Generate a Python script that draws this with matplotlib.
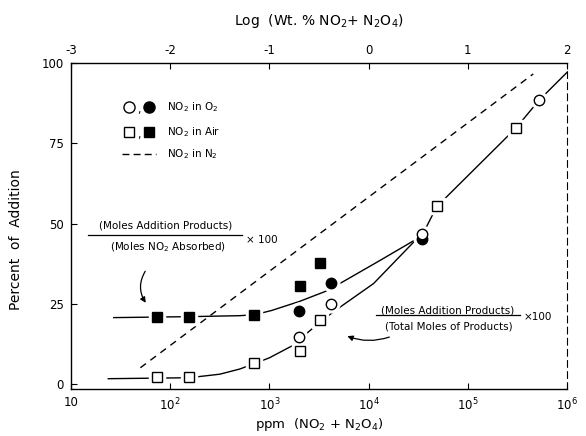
import numpy as np
import matplotlib
matplotlib.use("Agg")
import matplotlib.pyplot as plt

plt.rcParams['font.family'] = ['DejaVu Sans']
plt.rcParams['mathtext.default'] = 'regular'
plt.rcParams['axes.unicode_minus'] = False

# NO2 in air (squares), filled = addition / absorbed, open = addition / total products
air_filled_ppm = [74, 155, 700, 2030, 3240]
air_filled_pct = [21.1, 21.1, 21.6, 30.7, 37.8]
air_open_ppm = [74, 155, 700, 2030, 3240, 48500, 306000]
air_open_pct = [2.2, 2.2, 6.8, 10.3, 20.0, 55.5, 79.8]

# NO2 in O2 (circles)
o2_filled_ppm = [2000, 4150, 34300]
o2_filled_pct = [23.0, 31.6, 45.4]
o2_open_ppm = [2000, 4150, 34300, 522000]
o2_open_pct = [14.7, 25.0, 46.8, 88.4]

# NO2 in N2 (dashed line)
n2_ppm = [50, 457000]
n2_pct = [5.2, 96.6]

# hand-drawn curves, read as log10(ppm) knots
upper_log = [1.43, 2.19, 2.70, 2.85, 3.02, 3.30, 3.56, 3.71, 4.11, 4.47, 4.535]
upper_pct = [20.8, 21.1, 21.4, 21.7, 23.0, 25.8, 28.9, 31.4, 38.5, 45.0, 46.1]
lower_log = [1.376, 2.19, 2.50, 2.70, 2.85, 3.00, 3.24, 3.41, 3.64, 4.05, 4.47,
             4.535, 4.686, 5.486, 5.718, 5.997]
lower_pct = [1.8, 2.1, 3.2, 4.8, 6.5, 8.3, 12.2, 16.8, 22.5, 31.4, 44.8,
             46.1, 55.3, 79.8, 88.4, 97.0]

x_ticks = [10, 1e2, 1e3, 1e4, 1e5, 1e6]
x_labels = ['10', '$10^2$', '$10^3$', '$10^4$', '$10^5$', '$10^6$']
top_labels = ['-3', '-2', '-1', '0', '1', '2']   # log wt% = log ppm - 4
y_ticks = [0, 25, 50, 75, 100]

fig = plt.figure(figsize=(5.86, 4.36), dpi=100)
ax = fig.add_axes([0.1212, 0.1071, 0.8464, 0.7484])
ax.set_xscale('log')
ax.set_xlim(10, 1e6)
ax.set_ylim(-1.5, 100)

k = 'black'
ax.plot(10 ** np.array(upper_log), upper_pct, color=k, lw=1.0, zorder=2)
ax.plot(10 ** np.array(lower_log), lower_pct, color=k, lw=1.0, zorder=2)
ax.plot(n2_ppm, n2_pct, color=k, lw=1.0, ls=(0, (5, 4)), zorder=2)

# white halos so the curves break around the markers
for xs, ys, m, s in [(air_filled_ppm, air_filled_pct, 's', 7),
                     (air_open_ppm, air_open_pct, 's', 7),
                     (o2_filled_ppm, o2_filled_pct, 'o', 8),
                     (o2_open_ppm, o2_open_pct, 'o', 8)]:
    ax.plot(xs, ys, ls='none', marker=m, ms=s + 4, mfc='white', mec='white', zorder=3)

ax.plot(air_open_ppm, air_open_pct, ls='none', marker='s', ms=6.5, mfc='white', mec=k, mew=1.0, zorder=4)
ax.plot(air_filled_ppm, air_filled_pct, ls='none', marker='s', ms=6.5, mfc=k, mec=k, zorder=4)
ax.plot(o2_filled_ppm, o2_filled_pct, ls='none', marker='o', ms=7.5, mfc=k, mec=k, zorder=5)
ax.plot(o2_open_ppm, o2_open_pct, ls='none', marker='o', ms=7.5, mfc='white', mec=k, mew=1.0, zorder=6)

# axes styling
ax.set_xticks(x_ticks)
ax.set_xticklabels(x_labels)
ax.xaxis.set_minor_locator(plt.NullLocator())
ax.set_yticks(y_ticks)
ax.set_yticklabels([str(v) for v in y_ticks])
ax.tick_params(direction='in', length=4, width=0.8, labelsize=8.5, pad=5)
ax.spines['right'].set_linestyle((0, (6, 4)))
ax.spines['right'].set_linewidth(0.8)
for s in ['left', 'bottom', 'top']:
    ax.spines[s].set_linewidth(1.0)

ax.set_xlabel('ppm  (NO$_2$ + N$_2$O$_4$)', fontsize=9.5, labelpad=2)
ax.set_ylabel('Percent  of  Addition', fontsize=10)
ax.yaxis.set_label_coords(-0.097, 0.46)

top = ax.twiny()
top.set_xscale('log')
top.set_xlim(ax.get_xlim())
top.set_xticks(x_ticks)
top.set_xticklabels(top_labels)
top.xaxis.set_minor_locator(plt.NullLocator())
top.tick_params(direction='in', length=4, width=0.8, labelsize=8.5, pad=4)
top.set_xlabel('Log  (Wt. % NO$_2$+ N$_2$O$_4$)', fontsize=10, labelpad=14)
for s in top.spines.values():
    s.set_visible(False)

# legend drawn by hand
tr = ax.transAxes
ax.plot([0.117], [0.866], transform=tr, marker='o', ms=8, mfc='white', mec=k, ls='none')
ax.plot([0.157], [0.866], transform=tr, marker='o', ms=8, mfc=k, mec=k, ls='none')
ax.plot([0.117], [0.789], transform=tr, marker='s', ms=7, mfc='white', mec=k, ls='none')
ax.plot([0.157], [0.789], transform=tr, marker='s', ms=7, mfc=k, mec=k, ls='none')
ax.text(0.137, 0.855, ',', transform=tr, fontsize=8, ha='center', va='center')
ax.text(0.137, 0.778, ',', transform=tr, fontsize=8, ha='center', va='center')
ax.plot([0.102, 0.171], [0.721, 0.721], transform=tr, color=k, lw=1.0, ls=(0, (5, 3)))
ax.text(0.193, 0.866, 'NO$_2$ in O$_2$', transform=tr, fontsize=7.5, va='center')
ax.text(0.193, 0.789, 'NO$_2$ in Air', transform=tr, fontsize=7.5, va='center')
ax.text(0.193, 0.721, 'NO$_2$ in N$_2$', transform=tr, fontsize=7.5, va='center')

# fraction labels
ax.text(0.19, 0.501, '(Moles Addition Products)', transform=tr, fontsize=7.5, ha='center', va='center')
ax.plot([0.034, 0.345], [0.472, 0.472], transform=tr, color=k, lw=0.9)
ax.text(0.196, 0.436, '(Moles NO$_2$ Absorbed)', transform=tr, fontsize=7.5, ha='center', va='center')
ax.text(0.353, 0.458, '\u00d7 100', transform=tr, fontsize=7.5, va='center')

ax.text(0.76, 0.243, '(Moles Addition Products)', transform=tr, fontsize=7.5, ha='center', va='center')
ax.plot([0.615, 0.905], [0.228, 0.228], transform=tr, color=k, lw=0.9)
ax.text(0.762, 0.194, '(Total Moles of Products)', transform=tr, fontsize=7.5, ha='center', va='center')
ax.text(0.912, 0.2216, '\u00d7100', transform=tr, fontsize=7.5, va='center')

ax.annotate('', xy=(0.1538, 0.258), xytext=(0.1526, 0.369), xycoords=tr, textcoords=tr,
            arrowprops=dict(arrowstyle='-|>', color=k, lw=0.9, mutation_scale=8,
                            connectionstyle='arc3,rad=0.35'))
ax.annotate('', xy=(0.552, 0.166), xytext=(0.647, 0.163), xycoords=tr, textcoords=tr,
            arrowprops=dict(arrowstyle='-|>', color=k, lw=0.9, mutation_scale=8,
                            connectionstyle='arc3,rad=-0.2'))

fig.savefig('out.png', dpi=100)
